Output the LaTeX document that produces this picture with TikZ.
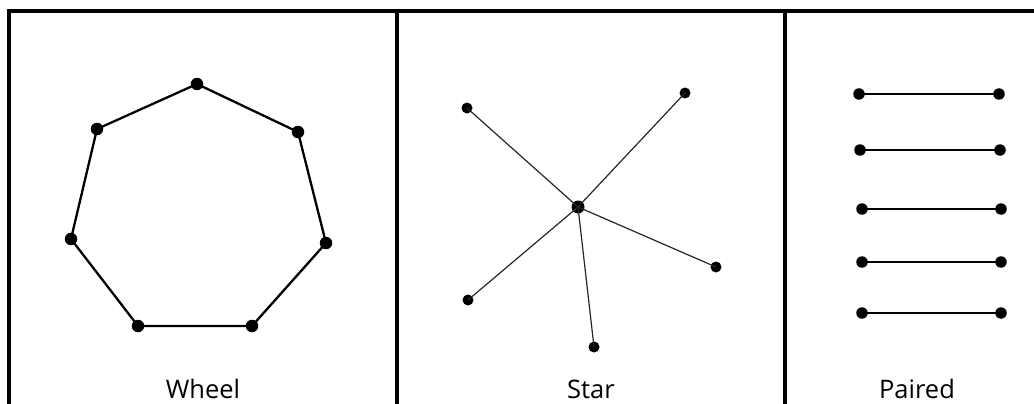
\documentclass[tikz,border=0pt]{standalone}
\usepackage{fontspec}
\setmainfont{Open Sans}
\begin{document}
\begin{tikzpicture}[x=1pt,y=-1pt,
  frame/.style={line width=3.3pt},
  bigdot/.style={circle,fill=black,inner sep=0pt,minimum size=12.5pt},
  dot/.style={circle,fill=black,inner sep=0pt,minimum size=11pt},
  hubdot/.style={circle,fill=black,inner sep=0pt,minimum size=13pt},
  ring/.style={line width=2.3pt},
  spoke/.style={line width=1.2pt,draw=black!85},
  pair/.style={line width=1.4pt},
  lbl/.style={anchor=base,font=\fontsize{25.5}{30}\selectfont,text=black}]
\useasboundingbox (0,0) rectangle (1034,404);
% frame
\coordinate (tl) at (9,11);
\coordinate (tr) at (1040,11);
\coordinate (bl) at (9,410);
\coordinate (d1t) at (397,11);
\coordinate (d1b) at (397,410);
\coordinate (d2t) at (785,11);
\coordinate (d2b) at (785,410);
\draw[frame] (bl) -- (tl) -- (tr);
\draw[frame] (d1t) -- (d1b);
\draw[frame] (d2t) -- (d2b);
% wheel
\node[bigdot] (w1) at (197,84) {};
\node[bigdot] (w2) at (298,132) {};
\node[bigdot] (w3) at (326,243) {};
\node[bigdot] (w4) at (252,326) {};
\node[bigdot] (w5) at (138,326) {};
\node[bigdot] (w6) at (71,239) {};
\node[bigdot] (w7) at (97,129) {};
\draw[ring] (w1.center) -- (w2.center) -- (w3.center) -- (w4.center) -- (w5.center) -- (w6.center) -- (w7.center) -- cycle;
\node[lbl] (lw) at (203,398) {Wheel};
% star
\node[hubdot] (c) at (578,207) {};
\node[dot] (s1) at (467,108) {};
\node[dot] (s2) at (685,93) {};
\node[dot] (s3) at (716,267) {};
\node[dot] (s4) at (594,347) {};
\node[dot] (s5) at (468,300) {};
\foreach \s in {s1,s2,s3,s4,s5} \draw[spoke] (c.center) -- (\s.center);
\node[lbl] (ls) at (591,398) {Star};
% paired
\foreach \i/\y/\xa/\xb in {1/94/859/999, 2/150/860/1000, 3/209/862/1001, 4/262/862/1001, 5/313/862/1001} {
  \node[dot,minimum size=11.5pt] (pl\i) at (\xa,\y) {};
  \node[dot,minimum size=11.5pt] (pr\i) at (\xb,\y) {};
  \draw[pair] (pl\i.center) -- (pr\i.center);
}
\node[lbl] (lp) at (917,398) {Paired};
\end{tikzpicture}
\end{document}
